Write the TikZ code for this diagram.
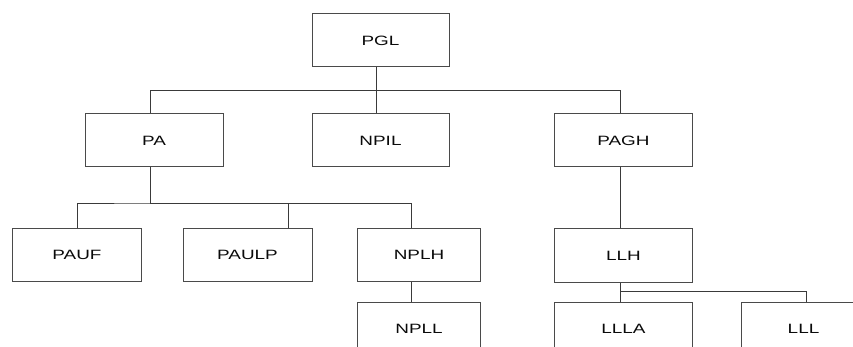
\documentclass[tikz,border=0pt]{standalone}
\usepackage{fontspec}
\newfontfamily\boxfont{Liberation Sans}[FakeStretch=1.4]
\usetikzlibrary{
  positioning,
  calc
}
\definecolor{border}{HTML}{4A4A4A}
\definecolor{linecolor}{HTML}{3A3A3A}
\definecolor{textprimary}{HTML}{0A0A0A}
\tikzset{
  unit/.style={
    draw=border,
    fill=white,
    text=textprimary,
    font=\boxfont\fontsize{13.5}{15}\selectfont,
    line width=1pt,
    minimum width=#1,
    minimum height=53pt,
    inner sep=0pt,
  },
  unit/.default=138pt,
  link/.style={
    draw=linecolor,
    line width=0.8pt,
  },
}

\begin{document}
\begin{tikzpicture}[x=1pt, y=1pt]

\useasboundingbox (0,0) rectangle (853,-347);
\clip (0,0) rectangle (853,-347);
\fill[white] (0,0) rectangle (853,-347);

% === ROW 1 ===

\node[unit=137pt] (pgl) at (380.5,-40.5) {PGL};

% === ROW 2 ===

\node[unit=138pt] (pa) at (154,-140.5) {PA};
\node[unit=137pt] (npil) at (380.5,-140.5) {NPIL};
\node[unit=138pt] (pagh) at (623.5,-140.5) {PAGH};

\draw[link] ([xshift=-4pt]pgl.south) -- ++(0,-23) coordinate (topbus);
\draw[link] ([xshift=-4pt]pa.north) |- (topbus) -| ([xshift=-3pt]pagh.north);
\draw[link] (topbus) -- ([xshift=-4pt]npil.north);

% === ROW 3 ===

\node[unit=129pt, minimum height=52pt] (pauf) at (77,-255) {PAUF};
\node[unit=129pt, minimum height=52pt] (paulp) at (247.5,-255) {PAULP};
\node[unit=123pt, minimum height=52pt] (nplh) at (419,-255) {NPLH};
\node[unit=138pt] (llh) at (623.5,-255.5) {LLH};

\draw[link] ([xshift=-4pt]pa.south) -- ++(0,-35.5) coordinate (pabus);
\draw[link] (pauf.north) |- (pabus) -| ([xshift=-8pt]nplh.north);
\draw[link] ([xshift=41pt]paulp.north) |- (pabus);
\draw[link] ([xshift=-3pt]pagh.south) -- ([xshift=-3pt]llh.north);

% === ROW 4 ===

\node[unit=123pt] (npll) at (419,-328.5) {NPLL};
\node[unit=138pt] (llla) at (623.5,-328.5) {LLLA};
\node[unit=138pt, anchor=west] (lll) at (741,-328.5) {\hspace*{-14pt}LLL};

\draw[link] ([xshift=-8pt]nplh.south) -- ([xshift=-8pt]npll.north);
\draw[link] ([xshift=-3pt]llh.south) -- ([xshift=-3pt]llla.north);
\draw[link] ([xshift=-3pt]llh.south) ++(0,-9) -| ([xshift=-4pt]lll.north);

\end{tikzpicture}
\end{document}
